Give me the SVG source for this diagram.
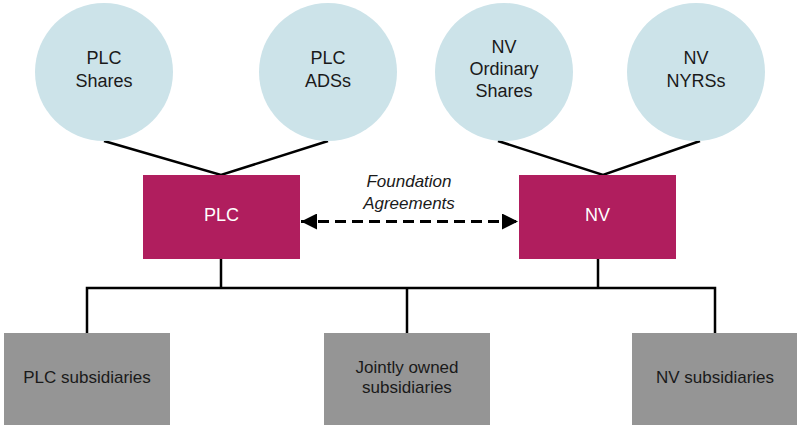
<svg xmlns="http://www.w3.org/2000/svg" width="797" height="425" viewBox="0 0 797 425">
  <style>
    .share { fill: #cce3e9; }
    .entity { fill: #b01e5e; }
    .sub { fill: #959595; }
    .lbl { font-family: "Liberation Sans", Arial, sans-serif; text-anchor: middle; }
    .dark { fill: #1a1a1a; font-size: 18px; }
    .light { fill: #ffffff; font-size: 18px; }
    .small { fill: #1a1a1a; font-size: 17px; }
    .link { stroke: #000; stroke-width: 2.5; fill: none; }
    .agree { stroke: #000; stroke-width: 3; fill: none; stroke-dasharray: 11 6; }
  </style>
  <defs>
    <marker id="head" viewBox="0 0 16 16" refX="16" refY="8" markerWidth="16" markerHeight="16" markerUnits="userSpaceOnUse" orient="auto-start-reverse">
      <path d="M0,0 L16,8 L0,16 Z" fill="#000"/>
    </marker>
  </defs>
  <rect width="797" height="425" fill="#ffffff"/>

  <!-- connectors -->
  <g id="connectors">
    <polyline class="link" points="104,141 221,175 328,141"/>
    <polyline class="link" points="498,141 603,175 700,141"/>
    <line class="link" x1="221" y1="259" x2="221" y2="288"/>
    <line class="link" x1="598" y1="259" x2="598" y2="288"/>
    <polyline class="link" points="87,333 87,288 715,288 715,333"/>
    <line class="link" x1="407" y1="288" x2="407" y2="333"/>
    <line class="agree" x1="301" y1="221.5" x2="518" y2="221.5" marker-start="url(#head)" marker-end="url(#head)"/>
    <text class="lbl" x="409" y="187" font-size="17" font-style="italic" fill="#1a1a1a">Foundation</text>
    <text class="lbl" x="409" y="209" font-size="17" font-style="italic" fill="#1a1a1a">Agreements</text>
  </g>

  <!-- shareholder circles -->
  <g id="plc-shares">
    <circle class="share" cx="104" cy="72" r="69"/>
    <text class="lbl dark" x="104" y="64">PLC</text>
    <text class="lbl dark" x="104" y="87">Shares</text>
  </g>
  <g id="plc-adss">
    <circle class="share" cx="328" cy="72" r="69"/>
    <text class="lbl dark" x="328" y="64">PLC</text>
    <text class="lbl dark" x="328" y="87">ADSs</text>
  </g>
  <g id="nv-ordinary">
    <circle class="share" cx="504" cy="72" r="69"/>
    <text class="lbl dark" x="504" y="53">NV</text>
    <text class="lbl dark" x="504" y="75">Ordinary</text>
    <text class="lbl dark" x="504" y="97">Shares</text>
  </g>
  <g id="nv-nyrss">
    <circle class="share" cx="696" cy="72" r="69"/>
    <text class="lbl dark" x="696" y="64">NV</text>
    <text class="lbl dark" x="696" y="87">NYRSs</text>
  </g>

  <!-- parent companies -->
  <g id="plc">
    <rect class="entity" x="143" y="175" width="157" height="84"/>
    <text class="lbl light" x="221.5" y="221">PLC</text>
  </g>
  <g id="nv">
    <rect class="entity" x="519" y="175" width="157" height="84"/>
    <text class="lbl light" x="597.5" y="221">NV</text>
  </g>

  <!-- subsidiaries -->
  <g id="plc-subsidiaries">
    <rect class="sub" x="4" y="333" width="166" height="92"/>
    <text class="lbl small" x="87" y="383">PLC subsidiaries</text>
  </g>
  <g id="jointly-owned">
    <rect class="sub" x="324" y="333" width="166" height="92"/>
    <text class="lbl small" x="407" y="373">Jointly owned</text>
    <text class="lbl small" x="407" y="393">subsidiaries</text>
  </g>
  <g id="nv-subsidiaries">
    <rect class="sub" x="632" y="333" width="166" height="92"/>
    <text class="lbl small" x="715" y="383">NV subsidiaries</text>
  </g>
</svg>
